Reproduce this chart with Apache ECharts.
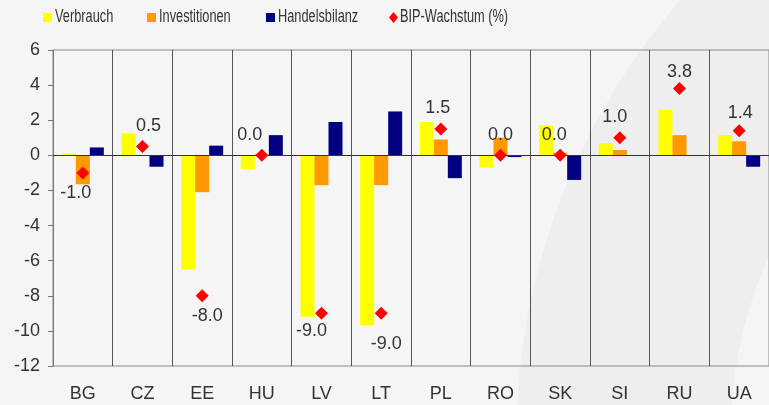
<!DOCTYPE html>
<html>
<head>
<meta charset="utf-8">
<script src="https://cdn.jsdelivr.net/npm/echarts@6/dist/echarts.min.js"></script>
<style>
  html, body { margin: 0; padding: 0; background: #f5f5f5; }
  #chart { width: 769px; height: 405px; }
</style>
</head>
<body>
<div id="chart"></div>
<script>
// Länder
var countries = ['BG', 'CZ', 'EE', 'HU', 'LV', 'LT', 'PL', 'RO', 'SK', 'SI', 'RU', 'UA'];
// Beiträge zum Wachstum
var verbrauch = [0.1, 1.25, -6.5, -0.8, -9.2, -9.7, 1.9, -0.7, 1.7, 0.7, 2.6, 1.15];
var investitionen = [-1.65, 0.0, -2.1, 0.05, -1.7, -1.7, 0.9, 1.0, 0.15, 0.3, 1.15, 0.8];
var handelsbilanz = [0.45, -0.65, 0.55, 1.15, 1.9, 2.5, -1.3, -0.1, -1.4, 0.0, 0.0, -0.65];
var bip = [-1.0, 0.5, -8.0, 0.0, -9.0, -9.0, 1.5, 0.0, 0.0, 1.0, 3.8, 1.4];
var seriesNames = ['Verbrauch', 'Investitionen', 'Handelsbilanz', 'BIP-Wachstum (%)'];
var seriesColors = ['#ffff00', '#ff9900', '#000080', '#ff0000'];
// Beschriftung oben/unten
var bipLabelPos = ['bottom', 'top', 'bottom', 'top', 'bottom', 'bottom', 'top', 'top', 'top', 'top', 'top', 'top'];
var bipLabelOffset = [[-7, 0], [6, 0], [5, 0], [-12, 0], [-10, -3], [5, 10], [-3, 0], [0, 0], [-6, 0], [-5, 0], [0, 4], [1, 3]];

var chart = echarts.init(document.getElementById('chart'));

var bipData = bip.map(function (v, i) {
  return {
    value: v,
    label: { position: bipLabelPos[i], offset: bipLabelOffset[i] }
  };
});

// Legende schmal (gestauchte Schrift wie im Original)
var legendX = [43, 147, 266, 390];
var legendItems = [];
seriesNames.forEach(function (name, i) {
  var x = legendX[i];
  if (i < 3) {
    legendItems.push({ type: 'rect', silent: true, shape: { x: x, y: 13, width: 9, height: 9 }, style: { fill: seriesColors[i] } });
  } else {
    legendItems.push({ type: 'polygon', silent: true, shape: { points: [[x + 3.5, 12], [x + 8, 17.5], [x + 3.5, 23], [x - 1, 17.5]] }, style: { fill: seriesColors[i] } });
  }
  legendItems.push({
    type: 'text', silent: true, x: x + (i < 3 ? 12 : 10), y: 17.5, scaleX: 0.73,
    style: { text: name, fill: '#333', font: "17.5px 'Liberation Sans', Arial", textVerticalAlign: 'middle', textAlign: 'left' }
  });
});

var option = {
  backgroundColor: '#f5f5f5',
  animation: false,
  textStyle: { fontFamily: "'Liberation Sans', Arial, sans-serif" },
  graphic: [
    {
      // heller Hintergrundbogen rechts
      type: 'ring', z: -10, silent: true,
      shape: { cx: 1188, cy: 440, r: 672, r0: 458 },
      style: { fill: '#eeeeee' }
    }
  ].concat(legendItems),
  legend: { show: false, data: seriesNames },
  grid: {
    left: 53, top: 50, right: -12, bottom: 39,
    show: true, borderColor: '#888', borderWidth: 1, backgroundColor: 'transparent'
  },
  xAxis: {
    type: 'category',
    data: countries,
    axisLine: { lineStyle: { color: '#888', width: 1 } },
    axisTick: { show: false },
    axisLabel: { color: '#333', fontSize: 18, margin: 19 },
    splitLine: { show: true, lineStyle: { color: '#555', width: 1 } }
  },
  yAxis: {
    type: 'value',
    min: -12, max: 6, interval: 2,
    axisLine: { show: true, lineStyle: { color: '#777' } },
    axisTick: { show: true, inside: false, length: 5, lineStyle: { color: '#777' } },
    axisLabel: { color: '#333', fontSize: 18, margin: 13 },
    splitLine: { show: false }
  },
  series: [
    {
      name: seriesNames[0], type: 'bar', data: verbrauch,
      barWidth: 14, barGap: '0%',
      itemStyle: { color: seriesColors[0] },
      markLine: {
        silent: true, symbol: 'none', label: { show: false },
        lineStyle: { color: '#333', width: 1, type: 'solid' },
        data: [{ yAxis: 0 }]
      }
    },
    {
      name: seriesNames[1], type: 'bar', data: investitionen,
      barWidth: 14, barGap: '0%',
      itemStyle: { color: seriesColors[1] }
    },
    {
      name: seriesNames[2], type: 'bar', data: handelsbilanz,
      barWidth: 14, barGap: '0%',
      itemStyle: { color: seriesColors[2] }
    },
    {
      name: seriesNames[3], type: 'scatter', data: bipData,
      symbol: 'diamond', symbolSize: 13, z: 5,
      itemStyle: { color: seriesColors[3], opacity: 1 },
      label: {
        show: true, color: '#333', fontSize: 18, distance: 5,
        formatter: function (p) { return p.value.toFixed(1); }
      }
    }
  ]
};

chart.setOption(option);
</script>
</body>
</html>
